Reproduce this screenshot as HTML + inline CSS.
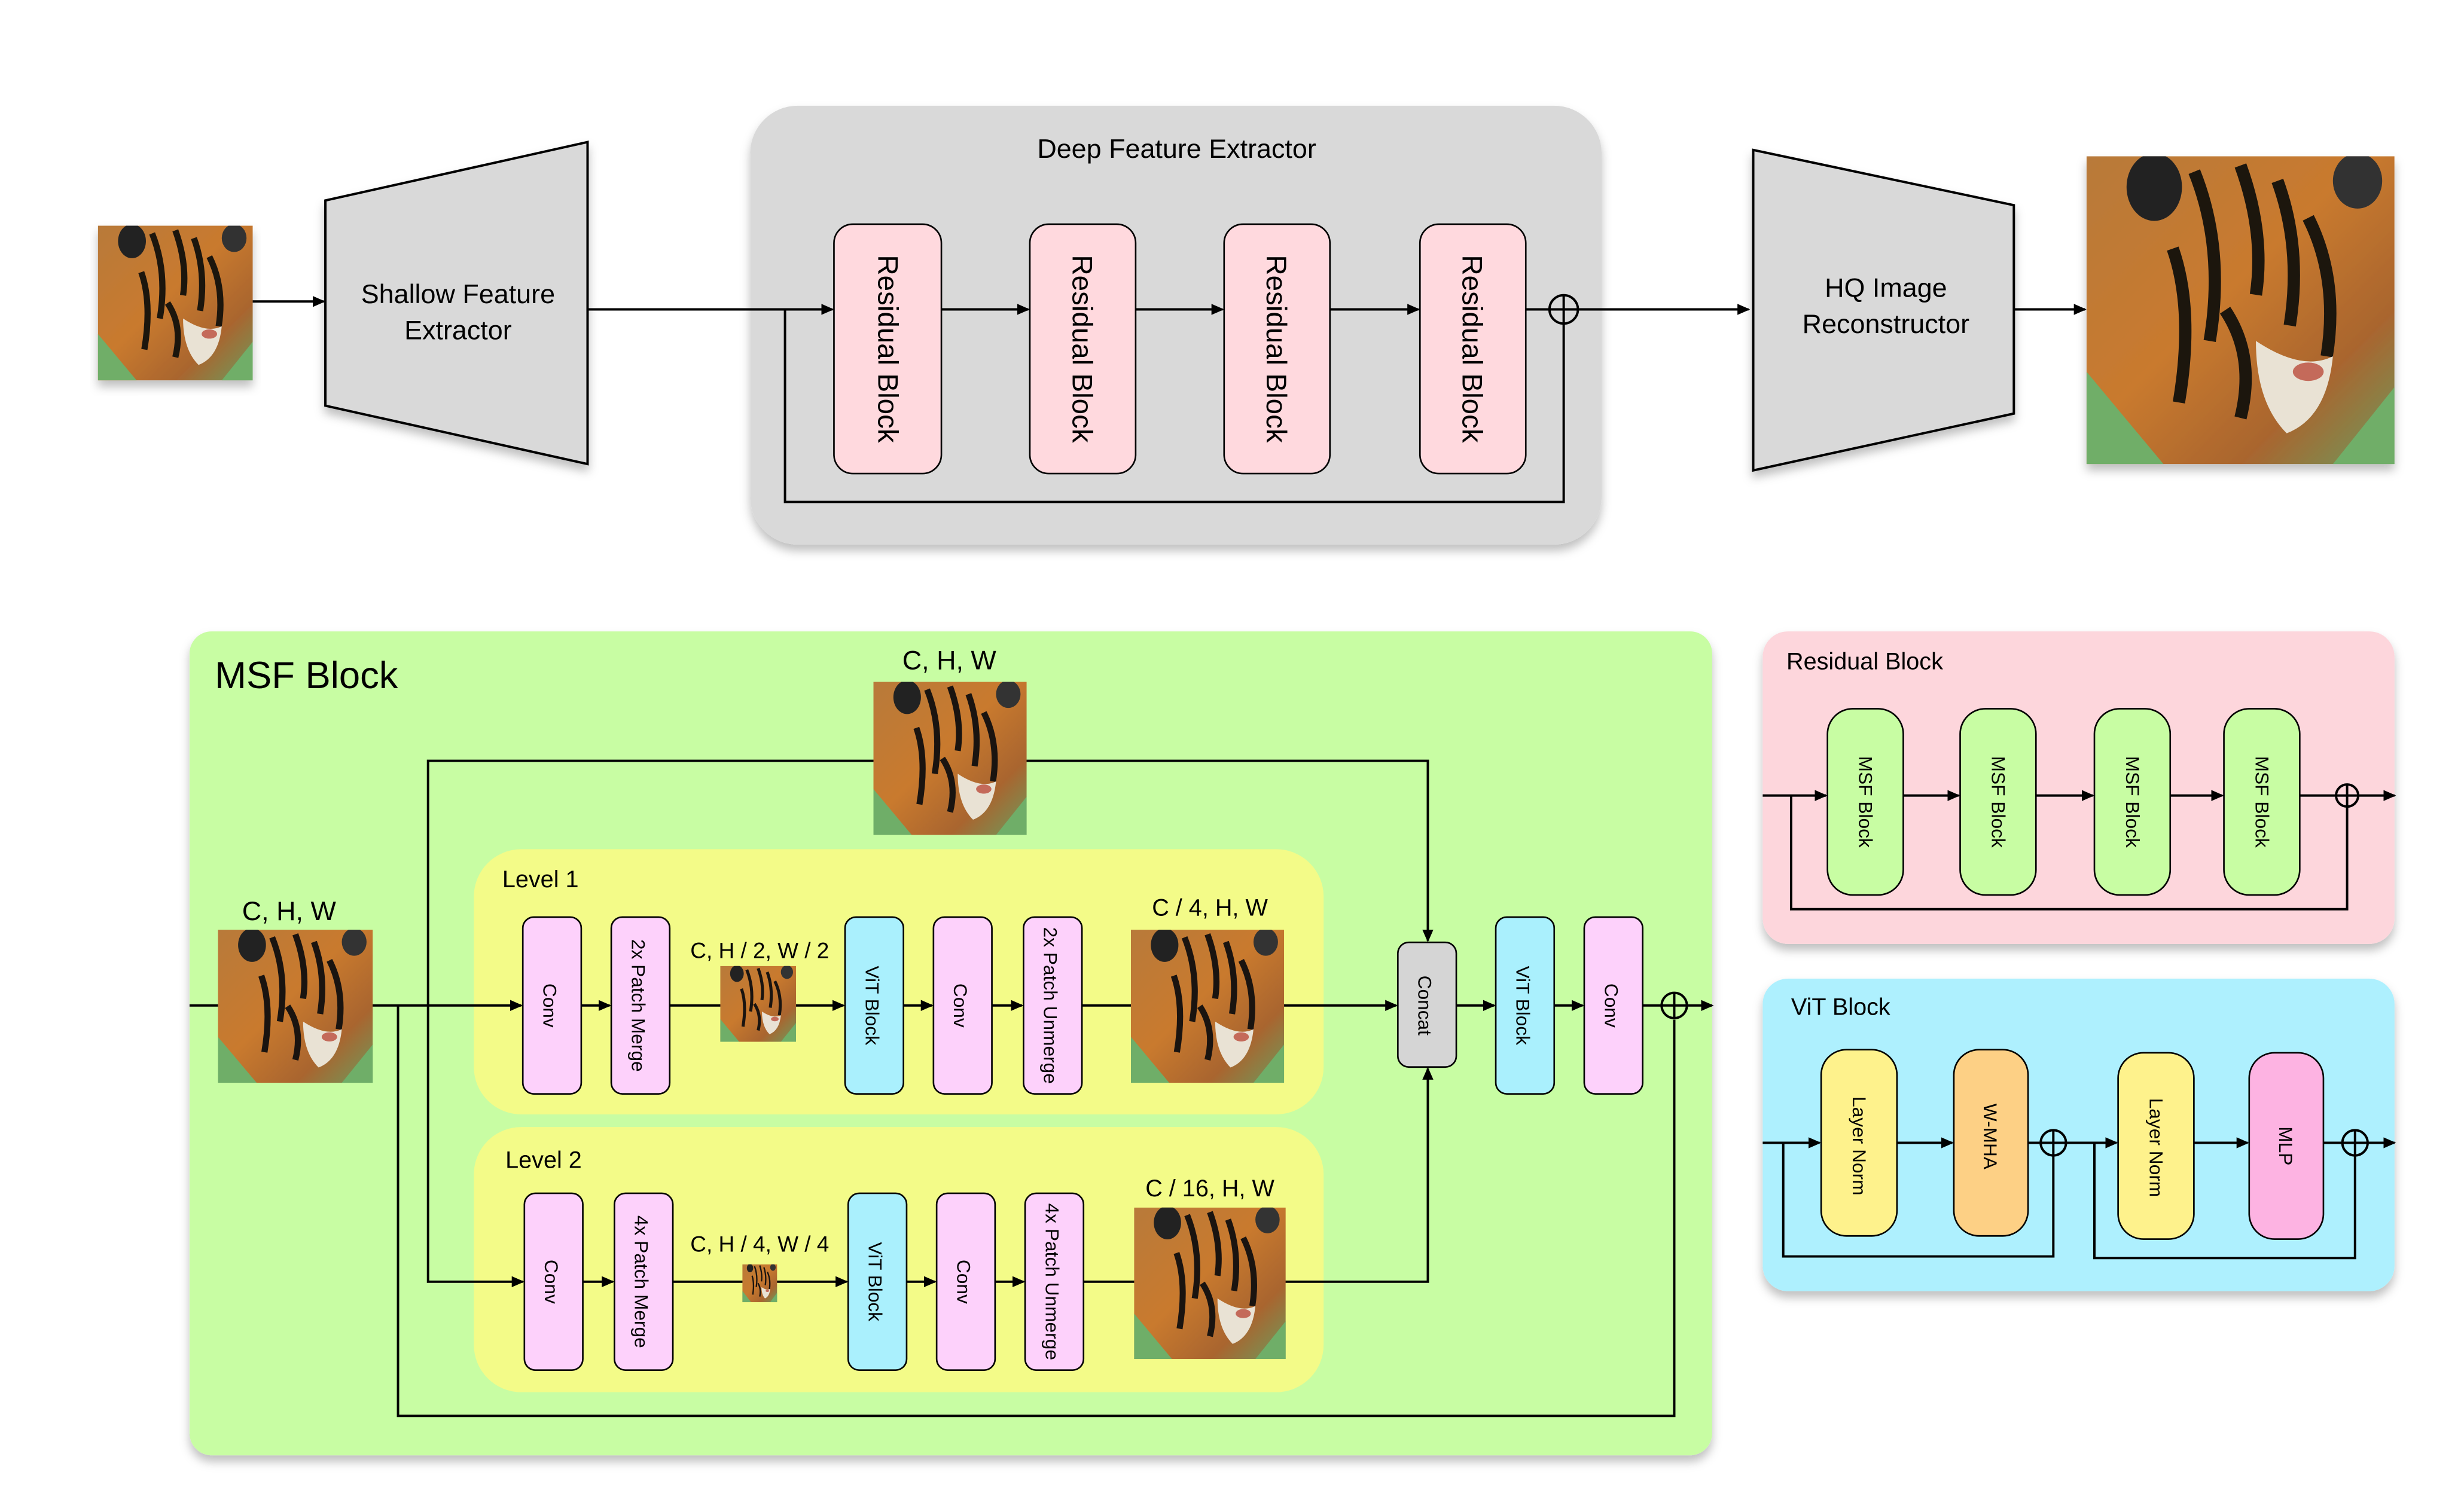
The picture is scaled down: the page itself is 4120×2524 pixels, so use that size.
<!DOCTYPE html>
<html><head><meta charset="utf-8"><style>
html,body{margin:0;padding:0;background:#fff;}
svg{display:block;}
text{font-family:"Liberation Sans",sans-serif;fill:#000;}
</style></head><body>
<svg width="4120" height="2524" viewBox="0 0 1560 956" preserveAspectRatio="none" xmlns="http://www.w3.org/2000/svg">
<defs>
<marker id="a" markerWidth="8" markerHeight="8" refX="7" refY="4" orient="auto" markerUnits="userSpaceOnUse"><path d="M0,0.5 L8,4 L0,7.5 z" fill="#000"/></marker>
<filter id="sh" x="-5%" y="-5%" width="110%" height="115%"><feDropShadow dx="0" dy="4" stdDeviation="3" flood-color="#000" flood-opacity="0.25"/></filter>
<linearGradient id="tg" x1="0" y1="0" x2="1" y2="1">
<stop offset="0" stop-color="#b87a3a"/><stop offset="0.45" stop-color="#c97a2e"/><stop offset="0.75" stop-color="#a9652f"/><stop offset="1" stop-color="#6e9a5c"/></linearGradient>
<symbol id="tiger" viewBox="0 0 100 100" preserveAspectRatio="none">
<rect width="100" height="100" fill="url(#tg)"/>
<path d="M0,70 L25,100 L0,100z M80,100 L100,75 L100,100z" fill="#6fae68"/>
<ellipse cx="22" cy="10" rx="9" ry="11" fill="#222"/><ellipse cx="88" cy="8" rx="8" ry="9" fill="#333"/>
<path d="M35,5 Q45,30 40,60 M50,3 Q58,25 55,45 M62,8 Q70,30 66,55 M28,30 Q35,50 30,80 M72,20 Q82,40 78,65 M45,50 Q55,65 50,85" stroke="#1a1410" stroke-width="4" fill="none"/>
<path d="M55,60 Q70,70 80,65 Q78,85 65,90 Q55,80 55,60z" fill="#e9e2d4"/>
<ellipse cx="72" cy="70" rx="5" ry="3" fill="#c46a5a"/>
</symbol>
</defs>

<!-- TOP -->
<use href="#tiger" x="62" y="143" width="98" height="98" filter="url(#sh)"/>
<line x1="160" y1="191" x2="205" y2="191" stroke="#000" stroke-width="1.5" marker-end="url(#a)"/>
<polygon points="206,127 372,90 372,294 206,257" fill="#d9d9d9" stroke="#000" stroke-width="1.5" filter="url(#sh)"/>
<text x="290" y="192" font-size="17" text-anchor="middle">Shallow Feature</text>
<text x="290" y="215" font-size="17" text-anchor="middle">Extractor</text>

<rect x="475" y="67" width="539" height="278" rx="30" fill="#d9d9d9" filter="url(#sh)"/>
<text x="745" y="100" font-size="17" text-anchor="middle">Deep Feature Extractor</text>
<line x1="372" y1="196" x2="527" y2="196" stroke="#000" stroke-width="1.5" marker-end="url(#a)"/>
<g fill="#ffd9de" stroke="#000" stroke-width="1">
<rect x="528" y="142" width="68" height="158" rx="12"/>
<rect x="652" y="142" width="67" height="158" rx="12"/>
<rect x="775" y="142" width="67" height="158" rx="12"/>
<rect x="899" y="142" width="67" height="158" rx="12"/>
</g>
<g font-size="18">
<text transform="translate(556,221) rotate(90)" text-anchor="middle">Residual Block</text>
<text transform="translate(679,221) rotate(90)" text-anchor="middle">Residual Block</text>
<text transform="translate(802,221) rotate(90)" text-anchor="middle">Residual Block</text>
<text transform="translate(926,221) rotate(90)" text-anchor="middle">Residual Block</text>
</g>
<g stroke="#000" stroke-width="1.5" fill="none">
<line x1="596" y1="196" x2="651" y2="196" marker-end="url(#a)"/>
<line x1="719" y1="196" x2="774" y2="196" marker-end="url(#a)"/>
<line x1="842" y1="196" x2="898" y2="196" marker-end="url(#a)"/>
<line x1="966" y1="196" x2="981" y2="196"/>
<polyline points="497,196 497,318 990,318 990,205"/>
<circle cx="990" cy="196" r="9"/><line x1="981" y1="196" x2="999" y2="196"/><line x1="990" y1="187" x2="990" y2="205"/>
<line x1="999" y1="196" x2="1107" y2="196" marker-end="url(#a)"/>
</g>
<polygon points="1110,95 1275,130 1275,262 1110,298" fill="#d9d9d9" stroke="#000" stroke-width="1.5" filter="url(#sh)"/>
<text x="1194" y="188" font-size="17" text-anchor="middle">HQ Image</text>
<text x="1194" y="211" font-size="17" text-anchor="middle">Reconstructor</text>
<line x1="1275" y1="196" x2="1320" y2="196" stroke="#000" stroke-width="1.5" marker-end="url(#a)"/>
<use href="#tiger" x="1321" y="99" width="195" height="195" filter="url(#sh)"/>

<!-- MSF BLOCK -->
<rect x="120" y="400" width="964" height="522" rx="14" fill="#c8fda3" filter="url(#sh)"/>
<text x="136" y="436" font-size="24">MSF Block</text>
<rect x="300" y="538" width="538" height="168" rx="30" fill="#f3fb88"/>
<rect x="300" y="714" width="538" height="168" rx="30" fill="#f3fb88"/>
<text x="318" y="562" font-size="15">Level 1</text>
<text x="320" y="740" font-size="15">Level 2</text>

<g stroke="#000" stroke-width="1.5" fill="none">
<line x1="120" y1="637" x2="330" y2="637" marker-end="url(#a)"/>
<polyline points="252,637 252,897 1060,897 1060,646"/>
<polyline points="271,637 271,482 904,482 904,596" marker-end="url(#a)"/>
<polyline points="271,637 271,812 331,812" marker-end="url(#a)"/>
<line x1="368" y1="637" x2="386" y2="637" marker-end="url(#a)"/>
<line x1="424" y1="637" x2="534" y2="637" marker-end="url(#a)"/>
<line x1="572" y1="637" x2="590" y2="637" marker-end="url(#a)"/>
<line x1="628" y1="637" x2="647" y2="637" marker-end="url(#a)"/>
<line x1="685" y1="637" x2="884" y2="637" marker-end="url(#a)"/>
<line x1="369" y1="812" x2="388" y2="812" marker-end="url(#a)"/>
<line x1="426" y1="812" x2="536" y2="812" marker-end="url(#a)"/>
<line x1="574" y1="812" x2="592" y2="812" marker-end="url(#a)"/>
<line x1="630" y1="812" x2="648" y2="812" marker-end="url(#a)"/>
<polyline points="686,812 904,812 904,677" marker-end="url(#a)"/>
<line x1="922" y1="637" x2="946" y2="637" marker-end="url(#a)"/>
<line x1="984" y1="637" x2="1002" y2="637" marker-end="url(#a)"/>
<line x1="1040" y1="637" x2="1052" y2="637"/>
<circle cx="1060" cy="637" r="8"/><line x1="1052" y1="637" x2="1068" y2="637"/><line x1="1060" y1="629" x2="1060" y2="645"/>
<line x1="1068" y1="637" x2="1084" y2="637" marker-end="url(#a)"/>
</g>

<use href="#tiger" x="553" y="432" width="97" height="97"/>
<text x="601" y="424" font-size="17" text-anchor="middle">C, H, W</text>
<use href="#tiger" x="138" y="589" width="98" height="97"/>
<text x="183" y="583" font-size="17" text-anchor="middle">C, H, W</text>
<use href="#tiger" x="456" y="612" width="48" height="48"/>
<text x="481" y="607" font-size="14" text-anchor="middle">C, H / 2, W / 2</text>
<use href="#tiger" x="716" y="589" width="97" height="97"/>
<text x="766" y="580" font-size="15" text-anchor="middle">C / 4, H, W</text>
<use href="#tiger" x="470" y="801" width="22" height="24"/>
<text x="481" y="793" font-size="14" text-anchor="middle">C, H / 4, W / 4</text>
<use href="#tiger" x="718" y="765" width="96" height="96"/>
<text x="766" y="758" font-size="15" text-anchor="middle">C / 16, H, W</text>

<g stroke="#000" stroke-width="1">
<rect x="331" y="581" width="37" height="112" rx="7" fill="#fdd1fb"/>
<rect x="387" y="581" width="37" height="112" rx="7" fill="#fdd1fb"/>
<rect x="535" y="581" width="37" height="112" rx="7" fill="#aaf0fd"/>
<rect x="591" y="581" width="37" height="112" rx="7" fill="#fdd1fb"/>
<rect x="648" y="581" width="37" height="112" rx="7" fill="#fdd1fb"/>
<rect x="332" y="756" width="37" height="112" rx="7" fill="#fdd1fb"/>
<rect x="389" y="756" width="37" height="112" rx="7" fill="#fdd1fb"/>
<rect x="537" y="756" width="37" height="112" rx="7" fill="#aaf0fd"/>
<rect x="593" y="756" width="37" height="112" rx="7" fill="#fdd1fb"/>
<rect x="649" y="756" width="37" height="112" rx="7" fill="#fdd1fb"/>
<rect x="885" y="597" width="37" height="79" rx="7" fill="#d5d5d5"/>
<rect x="947" y="581" width="37" height="112" rx="7" fill="#aaf0fd"/>
<rect x="1003" y="581" width="37" height="112" rx="7" fill="#fdd1fb"/>
</g>
<g font-size="12" text-anchor="middle">
<text transform="translate(344,637) rotate(90)">Conv</text>
<text transform="translate(400,637) rotate(90)">2x Patch Merge</text>
<text transform="translate(548,637) rotate(90)">ViT Block</text>
<text transform="translate(604,637) rotate(90)">Conv</text>
<text transform="translate(661,637) rotate(90)">2x Patch Unmerge</text>
<text transform="translate(345,812) rotate(90)">Conv</text>
<text transform="translate(402,812) rotate(90)">4x Patch Merge</text>
<text transform="translate(550,812) rotate(90)">ViT Block</text>
<text transform="translate(606,812) rotate(90)">Conv</text>
<text transform="translate(662,812) rotate(90)">4x Patch Unmerge</text>
<text transform="translate(898,637) rotate(90)">Concat</text>
<text transform="translate(960,637) rotate(90)">ViT Block</text>
<text transform="translate(1016,637) rotate(90)">Conv</text>
</g>

<!-- RESIDUAL BLOCK detail -->
<rect x="1116" y="400" width="400" height="198" rx="16" fill="#fdd6dc" filter="url(#sh)"/>
<text x="1131" y="424" font-size="15">Residual Block</text>
<g stroke="#000" stroke-width="1.5" fill="none">
<line x1="1116" y1="504" x2="1156" y2="504" marker-end="url(#a)"/>
<line x1="1205" y1="504" x2="1240" y2="504" marker-end="url(#a)"/>
<line x1="1289" y1="504" x2="1325" y2="504" marker-end="url(#a)"/>
<line x1="1374" y1="504" x2="1407" y2="504" marker-end="url(#a)"/>
<line x1="1456" y1="504" x2="1479" y2="504"/>
<polyline points="1134,504 1134,576 1486,576 1486,511"/>
<circle cx="1486" cy="504" r="7"/><line x1="1479" y1="504" x2="1493" y2="504"/><line x1="1486" y1="497" x2="1486" y2="511"/>
<line x1="1493" y1="504" x2="1516" y2="504" marker-end="url(#a)"/>
</g>
<g fill="#c8fda3" stroke="#000" stroke-width="1">
<rect x="1157" y="449" width="48" height="118" rx="16"/>
<rect x="1241" y="449" width="48" height="118" rx="16"/>
<rect x="1326" y="449" width="48" height="118" rx="16"/>
<rect x="1408" y="449" width="48" height="118" rx="16"/>
</g>
<g font-size="12" text-anchor="middle">
<text transform="translate(1177,508) rotate(90)">MSF Block</text>
<text transform="translate(1261,508) rotate(90)">MSF Block</text>
<text transform="translate(1346,508) rotate(90)">MSF Block</text>
<text transform="translate(1428,508) rotate(90)">MSF Block</text>
</g>

<!-- VIT BLOCK detail -->
<rect x="1116" y="620" width="400" height="198" rx="16" fill="#aef0fe" filter="url(#sh)"/>
<text x="1134" y="643" font-size="15">ViT Block</text>
<g stroke="#000" stroke-width="1.5" fill="none">
<line x1="1116" y1="724" x2="1152" y2="724" marker-end="url(#a)"/>
<line x1="1201" y1="724" x2="1236" y2="724" marker-end="url(#a)"/>
<line x1="1284" y1="724" x2="1292" y2="724"/>
<polyline points="1129,724 1129,796 1300,796 1300,732"/>
<circle cx="1300" cy="724" r="8"/><line x1="1292" y1="724" x2="1308" y2="724"/><line x1="1300" y1="716" x2="1300" y2="732"/>
<line x1="1308" y1="724" x2="1340" y2="724" marker-end="url(#a)"/>
<polyline points="1326,724 1326,797 1491,797 1491,732"/>
<line x1="1389" y1="724" x2="1423" y2="724" marker-end="url(#a)"/>
<line x1="1471" y1="724" x2="1483" y2="724"/>
<circle cx="1491" cy="724" r="8"/><line x1="1483" y1="724" x2="1499" y2="724"/><line x1="1491" y1="716" x2="1491" y2="732"/>
<line x1="1499" y1="724" x2="1516" y2="724" marker-end="url(#a)"/>
</g>
<g stroke="#000" stroke-width="1">
<rect x="1153" y="665" width="48" height="118" rx="16" fill="#fef28c"/>
<rect x="1237" y="665" width="47" height="118" rx="16" fill="#fdd085"/>
<rect x="1341" y="667" width="48" height="118" rx="16" fill="#fef28c"/>
<rect x="1424" y="667" width="47" height="118" rx="16" fill="#fdb3e2"/>
</g>
<g font-size="12" text-anchor="middle">
<text transform="translate(1173,726) rotate(90)">Layer Norm</text>
<text transform="translate(1256,720) rotate(90)">W-MHA</text>
<text transform="translate(1361,727) rotate(90)">Layer Norm</text>
<text transform="translate(1443,726) rotate(90)">MLP</text>
</g>
</svg>
</body></html>
